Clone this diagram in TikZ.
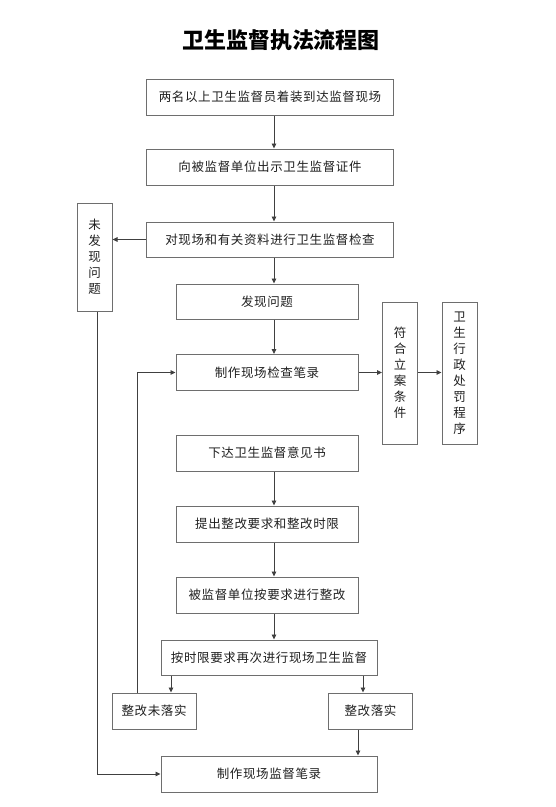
\documentclass[tikz,border=0pt]{standalone}
\usepackage{fontspec}
\newfontfamily\cjk[LetterSpace=5]{Noto Sans CJK SC}
\newfontfamily\cjkv{Noto Sans CJK SC}
\newfontfamily\cjkt{Noto Sans CJK SC}
\usetikzlibrary{arrows.meta}
\definecolor{linec}{HTML}{404040}
\definecolor{boxc}{HTML}{6E6E6E}
\definecolor{textc}{HTML}{202020}
\tikzset{
  box/.style={draw=boxc, line width=1pt, fill=white, inner sep=0pt, align=center,
    text=textc, font=\cjk\fontsize{12.5}{16}\selectfont},
  vbox/.style={box, minimum width=35pt, font=\cjkv\fontsize{12.5}{16}\selectfont},
  arr/.style={draw=linec, line width=0.9pt, -{Triangle[length=5pt,width=4.5pt]}},
  ln/.style={draw=linec, line width=0.9pt}
}
\begin{document}
\begin{tikzpicture}[x=1pt,y=-1pt]
\useasboundingbox (0,0) rectangle (555,807);
\node[text=black, font=\cjkt\bfseries\fontsize{22}{24}\selectfont] (title) at (281,40) {卫生监督执法流程图};

\node[box, minimum width=247pt, minimum height=36pt] (n1) at (270,97) {两名以上卫生监督员着装到达监督现场};
\node[box, minimum width=247pt, minimum height=36pt] (n2) at (270,167) {向被监督单位出示卫生监督证件};
\node[box, minimum width=247pt, minimum height=35pt] (n3) at (270,239.5) {对现场和有关资料进行卫生监督检查};
\node[vbox, minimum height=108pt] (nf) at (94.5,257) {未\\发\\现\\问\\题};
\node[box, minimum width=182pt, minimum height=35pt] (n4) at (267,301.5) {发现问题};
\node[box, minimum width=182pt, minimum height=36pt] (n5) at (267,372.5) {制作现场检查笔录};
\node[vbox, minimum height=142pt] (r1) at (400,373) {符\\合\\立\\案\\条\\件};
\node[vbox, minimum height=142pt] (r2) at (459.5,373) {卫\\生\\行\\政\\处\\罚\\程\\序};
\node[box, minimum width=182pt, minimum height=36pt] (n6) at (267,453) {下达卫生监督意见书};
\node[box, minimum width=182pt, minimum height=36pt] (n7) at (267,524) {提出整改要求和整改时限};
\node[box, minimum width=182pt, minimum height=36pt] (n8) at (267,595) {被监督单位按要求进行整改};
\node[box, minimum width=216pt, minimum height=35pt] (n9) at (269,657.5) {按时限要求再次进行现场卫生监督};
\node[box, minimum width=84pt, minimum height=36pt] (nl) at (154,711) {整改未落实};
\node[box, minimum width=84pt, minimum height=36pt] (nr) at (370.5,711) {整改落实};
\node[box, minimum width=216pt, minimum height=36pt] (n10) at (269,774) {制作现场监督笔录};

\coordinate (ax) at (274,0);
\coordinate (lx) at (97,0);
\coordinate (rx) at (137,0);
\coordinate (ax1) at (171,0);
\coordinate (ax2) at (363,0);
\coordinate (ax3) at (358,0);

\draw[arr] (n1.south -| ax) -- (n2.north -| ax);
\draw[arr] (n2.south -| ax) -- (n3.north -| ax);
\draw[arr] (n3.south -| ax) -- (n4.north -| ax);
\draw[arr] (n4.south -| ax) -- (n5.north -| ax);
\draw[arr] (n6.south -| ax) -- (n7.north -| ax);
\draw[arr] (n7.south -| ax) -- (n8.north -| ax);
\draw[arr] (n8.south -| ax) -- (n9.north -| ax);
\draw[arr] (n3.west) -- (nf.east |- n3.west);
\draw[arr] (n5.east) -- (r1.west |- n5.east);
\draw[arr] (r1.east |- n5.east) -- (r2.west |- n5.east);
\draw[arr] (nf.south -| lx) |- (n10.west);
\draw[arr] (nl.north -| rx) |- (n5.west);
\draw[arr] (n9.south -| ax1) -- (nl.north -| ax1);
\draw[arr] (n9.south -| ax2) -- (nr.north -| ax2);
\draw[arr] (nr.south -| ax3) -- (n10.north -| ax3);
\end{tikzpicture}
\end{document}
